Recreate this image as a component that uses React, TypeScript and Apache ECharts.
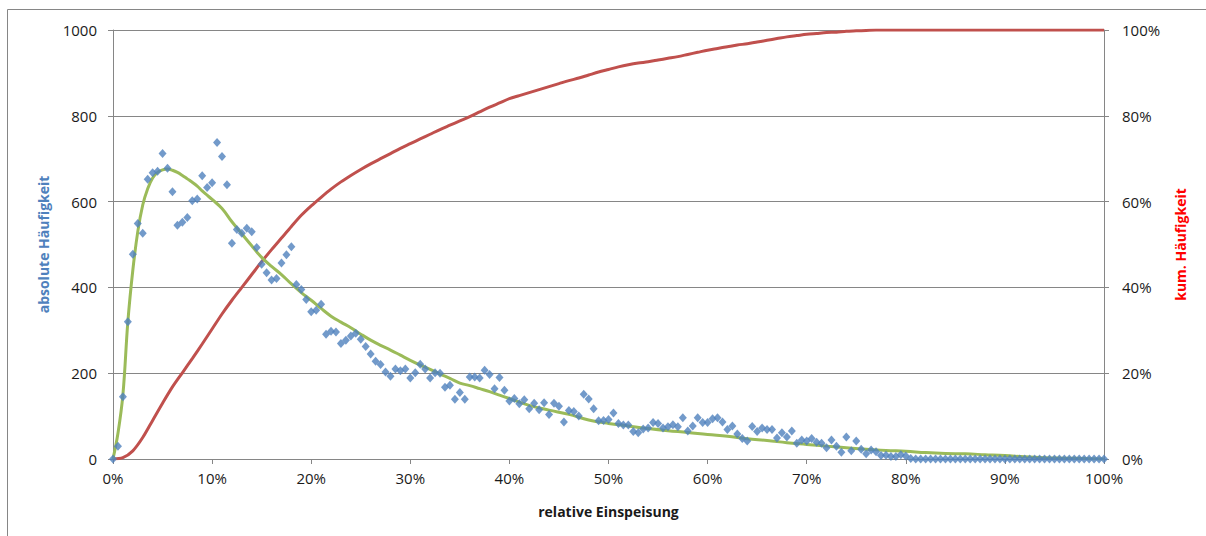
import React, { useEffect, useRef } from 'react';
import * as echarts from 'echarts';

// relative feed-in (%) at 0.5 % steps
const xSteps: number[] = Array.from({ length: 201 }, (_, i) => i * 0.5);

// absolute frequency (blue diamonds), one value per 0.5 % step
const absFreq: number[] = [
  0, 30, 145, 320, 477, 549, 526, 652, 667, 671,
  712, 678, 623, 545, 552, 563, 602, 606, 660, 633,
  644, 738, 705, 639, 503, 535, 526, 538, 530, 493,
  454, 434, 417, 421, 457, 476, 495, 407, 395, 372,
  343, 347, 361, 291, 298, 296, 269, 277, 287, 293,
  279, 262, 245, 228, 220, 203, 193, 210, 206, 210,
  189, 201, 221, 210, 189, 201, 200, 167, 172, 139,
  155, 139, 191, 191, 189, 207, 197, 164, 190, 160,
  135, 141, 129, 138, 117, 130, 115, 131, 104, 130,
  123, 86, 113, 111, 100, 151, 140, 117, 89, 90,
  92, 107, 83, 79, 79, 64, 61, 70, 72, 85,
  83, 72, 75, 80, 75, 96, 65, 77, 96, 85,
  85, 94, 96, 86, 69, 77, 58, 48, 42, 76,
  64, 72, 69, 69, 49, 61, 51, 65, 37, 44,
  42, 48, 39, 37, 26, 44, 30, 16, 51, 19,
  42, 23, 12, 21, 17, 8, 9, 6, 6, 10,
  7, 1, 0, 0, 0, 0, 0, 0, 0, 0,
  0, 0, 0, 0, 0, 0, 0, 0, 0, 0,
  0, 0, 0, 0, 0, 0, 0, 0, 0, 0,
  0, 0, 0, 0, 0, 0, 0, 0, 0, 0,
  0,
];

// fitted distribution (green line)
const fitX: number[] = [
  0, 0.5, 1, 1.5, 2, 2.5, 3, 3.5, 4, 4.5, 5, 5.5, 6, 6.5, 7, 7.5, 8, 8.5, 9, 9.5,
  10, 11, 12, 13, 14, 15, 16, 17, 18, 19, 20, 21, 22, 23, 24, 25, 26, 27, 28, 29,
  30, 31, 32, 33, 34, 35, 36, 37, 38, 39, 40, 42, 44, 46, 48, 50, 52, 54, 56, 58,
  60, 62, 64, 66, 68, 70, 72, 74, 76, 78, 80, 82, 84, 86, 88, 90, 92, 94, 96, 98, 100,
];
const fitY: number[] = [
  0, 60, 150, 320, 440, 530, 592, 630, 655, 668, 674, 676, 673, 668, 661, 653, 645, 636, 625, 615,
  605, 584, 553, 525, 497, 470, 449, 430, 408, 388, 370, 351, 333, 319, 306, 291, 277, 265, 254, 242,
  230, 219, 209, 198, 188, 177, 171, 164, 157, 149, 141, 125, 114, 104, 91, 83, 77, 71, 66, 62,
  57, 53, 47, 43, 38, 34, 30, 26, 23, 20, 18, 15, 13, 12, 10, 8, 5, 3, 2, 1, 0,
];

// cumulative frequency in % (red line), 1 % steps
const cumX: number[] = Array.from({ length: 101 }, (_, i) => i);
const cumY: number[] = [
  0, 0.3, 1.9, 5.0, 9.0, 13.0, 16.8, 20.1, 23.4, 26.8,
  30.3, 33.8, 37.0, 40.0, 43.0, 46.0, 48.8, 51.5, 54.2, 56.8,
  59.0, 61.0, 62.9, 64.6, 66.1, 67.5, 68.8, 70.0, 71.2, 72.4,
  73.5, 74.6, 75.7, 76.8, 77.8, 78.8, 79.8, 80.9, 82.0, 83.0,
  84.0, 84.7, 85.4, 86.1, 86.8, 87.5, 88.2, 88.8, 89.5, 90.2,
  90.8, 91.4, 91.9, 92.3, 92.6, 93.0, 93.4, 93.8, 94.3, 94.8,
  95.3, 95.7, 96.1, 96.5, 96.8, 97.2, 97.6, 98.0, 98.4, 98.7,
  99.0, 99.2, 99.4, 99.5, 99.7, 99.8, 99.9, 100, 100, 100,
  100, 100, 100, 100, 100, 100, 100, 100, 100, 100,
  100, 100, 100, 100, 100, 100, 100, 100, 100, 100,
  100,
];

const xTicks = { min: 0, max: 100, interval: 10 };
const leftTicks = { min: 0, max: 1000, interval: 200 };
const rightTicks = { min: 0, max: 100, interval: 20 };

const FONT = '"Open Sans", "Noto Sans", sans-serif';
const AXIS_GRAY = '#868686';
const TEXT = '#1a1a1a';

export default function App() {
  const ref = useRef<HTMLDivElement>(null);
  useEffect(() => {
    const chart = echarts.init(ref.current!, null, { renderer: 'svg' });
    chart.setOption({
      animation: false,
      backgroundColor: '#fff',
      textStyle: { fontFamily: FONT },
      grid: { left: 113, right: 102, top: 30, bottom: 77 },
      graphic: [
        {
          type: 'rect',
          shape: { x: 7.5, y: 9.5, width: 1230, height: 560 },
          style: { fill: 'none', stroke: AXIS_GRAY, lineWidth: 1 },
          silent: true,
        },
      ],
      xAxis: {
        type: 'value',
        min: xTicks.min,
        max: xTicks.max,
        interval: xTicks.interval,
        name: 'relative Einspeisung',
        nameLocation: 'middle',
        nameGap: 45,
        nameTextStyle: { fontFamily: FONT, fontWeight: 'bold', fontSize: 14, color: TEXT },
        axisLine: { show: true, onZero: false, lineStyle: { color: AXIS_GRAY, width: 1 } },
        axisTick: { show: true, inside: false, length: 5, lineStyle: { color: AXIS_GRAY } },
        axisLabel: {
          formatter: (v: number) => `${v}%`,
          fontSize: 15,
          color: TEXT,
          margin: 11,
          fontFamily: FONT,
        },
        splitLine: { show: false },
      },
      yAxis: [
        {
          type: 'value',
          min: leftTicks.min,
          max: leftTicks.max,
          interval: leftTicks.interval,
          position: 'left',
          name: 'absolute Häufigkeit',
          nameLocation: 'middle',
          nameGap: 63,
          nameRotate: 90,
          nameTextStyle: { fontFamily: FONT, fontWeight: 'bold', fontSize: 14, color: '#4F81BD' },
          axisLine: { show: true, lineStyle: { color: AXIS_GRAY, width: 1 } },
          axisTick: { show: true, inside: false, length: 5, lineStyle: { color: AXIS_GRAY } },
          axisLabel: {
            formatter: (v: number) => String(v),
            fontSize: 15,
            color: TEXT,
            margin: 16,
            fontFamily: FONT,
          },
          splitLine: { show: true, lineStyle: { color: AXIS_GRAY, width: 1 } },
        },
        {
          type: 'value',
          min: rightTicks.min,
          max: rightTicks.max,
          interval: rightTicks.interval,
          position: 'right',
          name: 'kum. Häufigkeit',
          nameLocation: 'middle',
          nameGap: 69,
          nameRotate: 90,
          nameTextStyle: { fontFamily: FONT, fontWeight: 'bold', fontSize: 14, color: '#FF0000' },
          axisLine: { show: true, lineStyle: { color: AXIS_GRAY, width: 1 } },
          axisTick: { show: true, inside: false, length: 5, lineStyle: { color: AXIS_GRAY } },
          axisLabel: {
            formatter: (v: number) => `${v}%`,
            fontSize: 15,
            color: TEXT,
            margin: 18,
            fontFamily: FONT,
          },
          splitLine: { show: false },
        },
      ],
      series: [
        {
          name: 'kum. Häufigkeit',
          type: 'line',
          yAxisIndex: 1,
          data: cumX.map((x, i) => [x, cumY[i]]),
          showSymbol: false,
          symbol: 'none',
          smooth: 0.3,
          lineStyle: { color: '#C0504D', width: 3 },
          z: 2,
        },
        {
          name: 'Anpassung',
          type: 'line',
          yAxisIndex: 0,
          data: fitX.map((x, i) => [x, fitY[i]]),
          showSymbol: false,
          symbol: 'none',
          smooth: 0.4,
          lineStyle: { color: '#9BBB59', width: 3 },
          z: 3,
        },
        {
          name: 'absolute Häufigkeit',
          type: 'scatter',
          yAxisIndex: 0,
          data: xSteps.map((x, i) => [x, absFreq[i]]),
          symbol: 'diamond',
          symbolSize: [8, 9],
          itemStyle: { color: '#4F81BD' },
          z: 4,
        },
      ],
    });
    return () => chart.dispose();
  }, []);
  return (
    <div
      ref={ref}
      style={{ position: 'fixed', left: 0, top: 0, width: 1206, height: 536, background: '#fff' }}
    />
  );
}
